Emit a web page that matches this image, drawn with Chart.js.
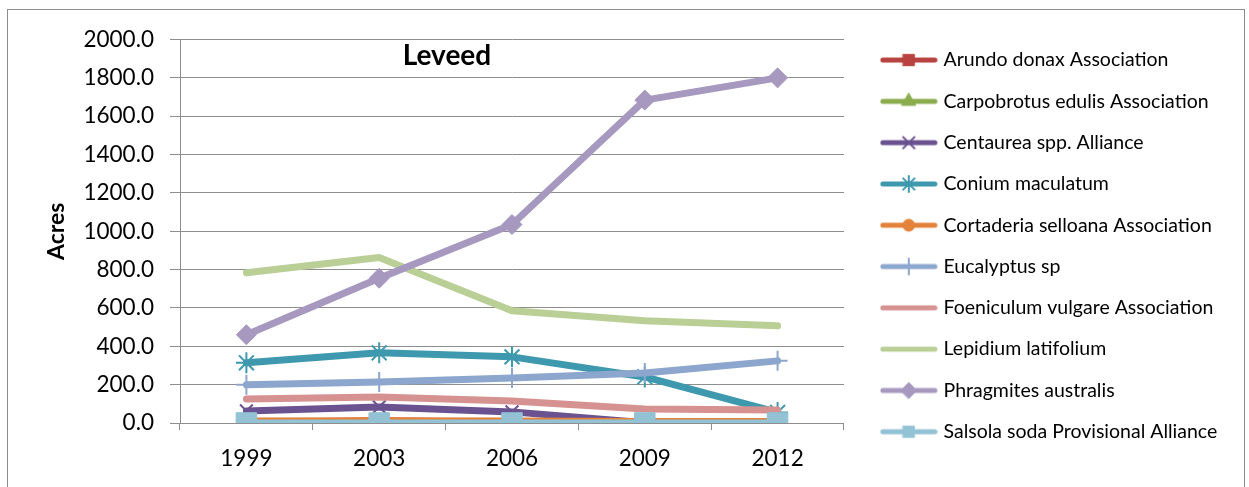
<!DOCTYPE html>
<html>
<head>
<meta charset="utf-8">
<script src="https://cdn.jsdelivr.net/npm/chart.js@4.4.1/dist/chart.umd.min.js"></script>
<style>
  html, body { margin: 0; padding: 0; background: #fff; }
  #wrap { position: relative; width: 1249px; height: 487px; overflow: hidden; }
  #frame { position: absolute; left: 7px; top: 9px; width: 1236px; height: 500px; border: 1px solid #8c8c8c; }
  #chart { position: absolute; left: 0; top: 0; }
</style>
</head>
<body>
<div id="wrap">
  <div id="frame"></div>
  <canvas id="chart" width="1249" height="487"></canvas>
</div>
<script>
// ── Data ────────────────────────────────────────────
const years = ['1999', '2003', '2006', '2009', '2012'];
const yTicks = [0, 200, 400, 600, 800, 1000, 1200, 1400, 1600, 1800, 2000];

const arundo      = [3, 12, 4, 1, 0];
const carpobrotus = [1, 1, 1, 0, 0];
const centaurea   = [63, 84, 58, 2, 2];
const conium      = [314, 366, 345, 240, 55];
const cortaderia  = [10, 12, 10, 8, 8];
const eucalyptus  = [199, 214, 235, 261, 324];
const foeniculum  = [125, 136, 115, 73, 68];
const lepidium    = [784, 863, 585, 533, 507];
const phragmites  = [460, 755, 1035, 1684, 1800];
const salsola     = [0, 0, 0, 0, 0];

// ── Series styling ──────────────────────────────────
const SERIES = [
  { label: 'Arundo donax Association',          data: arundo,      color: '#b7423f', style: 'rect',     r: 9,    fill: true },
  { label: 'Carpobrotus edulis Association',    data: carpobrotus, color: '#8aac4c', style: 'triangle', r: 8,    fill: true },
  { label: 'Centaurea spp. Alliance',           data: centaurea,   color: '#6a5290', style: 'crossRot', r: 9,    fill: false },
  { label: 'Conium maculatum',                  data: conium,      color: '#3e98ae', style: 'star',     r: 10.5, fill: false },
  { label: 'Cortaderia selloana Association',   data: cortaderia,  color: '#e3823a', style: 'circle',   r: 6,    fill: true },
  { label: 'Eucalyptus sp',                     data: eucalyptus,  color: '#8ca6cd', style: 'cross',    r: 10,   fill: false },
  { label: 'Foeniculum vulgare Association',    data: foeniculum,  color: '#d69290', style: false,      r: 0,    fill: true },
  { label: 'Lepidium latifolium',               data: lepidium,    color: '#b9cf96', style: false,      r: 0,    fill: true },
  { label: 'Phragmites australis',              data: phragmites,  color: '#a798bf', style: 'rectRot',  r: 10,   fill: true },
  { label: 'Salsola soda Provisional Alliance', data: salsola,     color: '#92c2d4', style: 'rect',     r: 14.5, fill: true },
];

const FONT = 'Lato';
const GRID = '#8e8e8e';
const LEGEND_SIZE = 19.5;
const LEGEND_PAD = 21.8;

// small line+marker swatch for the legend
function legendIcon(s) {
  const c = document.createElement('canvas');
  c.width = 58; c.height = 20;
  const ctx = c.getContext('2d');
  ctx.strokeStyle = s.color;
  ctx.lineWidth = 5;
  ctx.lineCap = 'round';
  ctx.beginPath();
  ctx.moveTo(3, 10); ctx.lineTo(55, 10);
  ctx.stroke();
  if (s.style) {
    ctx.fillStyle = s.color;
    ctx.lineWidth = s.fill ? 1 : 2;
    Chart.helpers.drawPoint(ctx, { pointStyle: s.style, radius: Math.min(s.r, 8), borderWidth: ctx.lineWidth, rotation: 0 }, 29, 10);
  }
  return c;
}

const datasets = SERIES.map((s, i) => ({
  label: s.label,
  data: s.data,
  borderColor: s.color,
  backgroundColor: s.color,
  borderWidth: 7,
  borderJoinStyle: 'round',
  borderCapStyle: 'round',
  pointStyle: s.style || 'circle',
  pointRadius: s.style ? s.r : 0,
  pointHoverRadius: s.style ? s.r : 0,
  pointBorderWidth: s.fill ? 1 : 2,
  pointBackgroundColor: s.color,
  pointBorderColor: s.color,
  tension: 0,
  order: SERIES.length - i,   // later series paint on top
}));

const icons = SERIES.map(legendIcon);

// chart title sitting inside the plot area
const innerTitle = {
  id: 'innerTitle',
  afterDraw(chart) {
    const { ctx, chartArea } = chart;
    ctx.save();
    ctx.font = `bold 28px ${FONT}`;
    ctx.fillStyle = '#000';
    ctx.textAlign = 'center';
    ctx.textBaseline = 'middle';
    ctx.fillText('Leveed', chartArea.left + chartArea.width * 0.402, chartArea.top + 16);
    ctx.restore();
  },
};

new Chart(document.getElementById('chart'), {
  type: 'line',
  data: { labels: years, datasets },
  plugins: [innerTitle],
  options: {
    responsive: false,
    animation: false,
    layout: { padding: { top: 28.5, right: 21.7, bottom: 0, left: 0 } },
    plugins: {
      tooltip: { enabled: false },
      legend: {
        position: 'right',
        align: 'start',
        maxWidth: 420,
        labels: {
          usePointStyle: true,
          pointStyleWidth: 50,
          padding: LEGEND_PAD,
          color: '#000',
          font: { family: FONT, size: LEGEND_SIZE },
          sort: (a, b) => a.datasetIndex - b.datasetIndex,
          generateLabels(c) {
            const items = Chart.defaults.plugins.legend.labels.generateLabels(c);
            items.forEach(it => { it.pointStyle = icons[it.datasetIndex]; });
            return items;
          },
        },
      },
    },
    scales: {
      x: {
        offset: true,
        grid: { drawOnChartArea: false, drawTicks: true, tickLength: 7, offset: true, color: GRID },
        border: { display: true, color: GRID },
        ticks: { color: '#000', padding: 15, font: { family: FONT, size: 22.5 } },
      },
      y: {
        min: 0,
        max: 2000,
        afterFit(s) { s.width = 180; },
        afterBuildTicks(s) { s.ticks = yTicks.map(v => ({ value: v })); },
        grid: { color: GRID, lineWidth: 1, tickLength: 10 },
        border: { display: true, color: GRID },
        ticks: { color: '#000', padding: 16, font: { family: FONT, size: 22.5 }, callback: v => Number(v).toFixed(1) },
        title: { display: true, text: 'Acres', color: '#000', font: { family: FONT, size: 23, weight: 'bold' }, padding: { top: 43, bottom: 0 } },
      },
      // spacer boxes: room above the plot and between plot and legend
      topGap: {
        type: 'category',
        position: 'top',
        display: true,
        afterFit(s) { s.height = 11; },
        grid: { display: false },
        border: { display: false },
        ticks: { display: false },
      },
      gap: {
        position: 'right',
        display: true,
        afterFit(s) { s.width = 18; },
        grid: { display: false },
        border: { display: false },
        ticks: { display: false },
      },
    },
  },
});
</script>
</body>
</html>
